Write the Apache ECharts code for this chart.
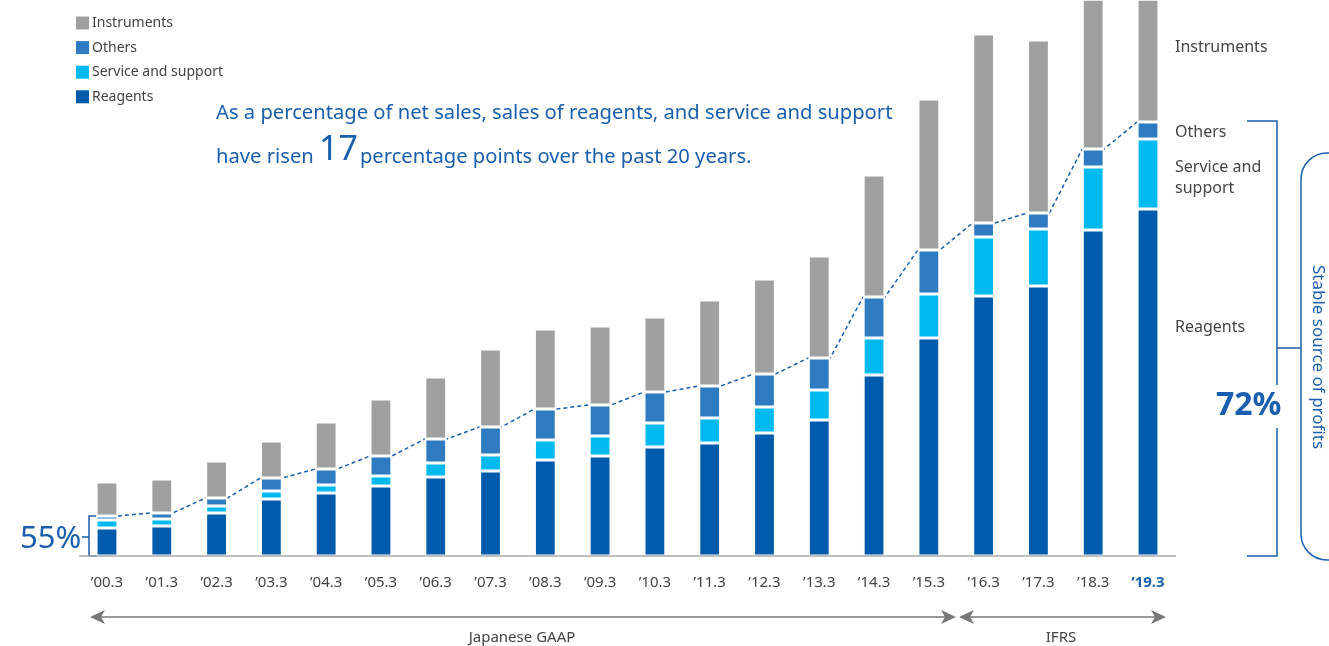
<!DOCTYPE html>
<html>
<head>
<meta charset="utf-8">
<script src="https://cdn.jsdelivr.net/npm/echarts@6/dist/echarts.min.js"></script>
<style>
html, body { margin: 0; padding: 0; background: #fff; }
#main { width: 1329px; height: 646px; }
</style>
</head>
<body>
<div id="main"></div>
<script>
// fiscal years (March year-end)
const years = ['’00.3', '’01.3', '’02.3', '’03.3', '’04.3', '’05.3', '’06.3', '’07.3', '’08.3', '’09.3',
  '’10.3', '’11.3', '’12.3', '’13.3', '’14.3', '’15.3', '’16.3', '’17.3', '’18.3', '’19.3'];
// sales by segment (relative units)
const reagents = [28, 30, 43, 57, 63, 70, 79, 85, 96, 100, 109, 113, 123, 136, 181, 218, 260, 270, 326, 347];
const service = [8, 7, 7, 8, 8, 10, 14, 16, 20, 20, 24, 25, 26, 30, 37, 44, 59, 57, 63, 70];
const others = [4, 6, 8, 13, 16, 20, 24, 28, 31, 31, 31, 32, 33, 32, 41, 44, 14, 16, 18, 17];
const instruments = [34, 34, 37, 37, 47, 57, 62, 78, 80, 79, 75, 86, 95, 102, 122, 151, 189, 173, 175, 169];

const blue = '#1a5fae';
const textColor = '#444';
const font = "'Noto Sans', sans-serif";

// dashed line runs along the top of reagents + service + others, edge to edge between bars
let stableTop = reagents.map((v, i) => v + service[i] + others[i]);
let halfBar = 0.2;
let dashPoints = [];
stableTop.forEach((v, i) => {
  if (i > 0) dashPoints.push([i - halfBar, v]);
  if (i < stableTop.length - 1) dashPoints.push([i + halfBar, v]);
});

function barSeries(name, data, color) {
  return {
    name: name,
    type: 'bar',
    stack: 'sales',
    data: data,
    barWidth: 22,
    z: 3,
    silent: true,
    itemStyle: { color: color, borderColor: '#fff', borderWidth: 1.6 }
  };
}

function txt(x, y, text, size, extra) {
  return {
    type: 'text', x: x, y: y, silent: true,
    style: Object.assign({ text: text, font: size + 'px ' + font, fill: textColor, textVerticalAlign: 'middle' }, extra || {})
  };
}

function stroke(type, shape, color) {
  return { type: type, silent: true, shape: shape, style: { stroke: color || blue, lineWidth: 1.5, fill: null } };
}

let option = {
  animation: false,
  textStyle: { fontFamily: font },
  grid: { left: 79.6, right: 153.6, top: 0, bottom: 90 },
  legend: {
    data: ['Instruments', 'Others', 'Service and support', 'Reagents'],
    orient: 'vertical',
    left: 76,
    top: 16,
    padding: 0,
    icon: 'rect',
    itemWidth: 13,
    itemHeight: 13,
    itemGap: 10.6,
    selectedMode: false,
    itemStyle: { borderWidth: 0 },
    textStyle: { color: textColor, fontSize: 14, fontFamily: font, padding: [0, 0, 0, -2] }
  },
  xAxis: [
    {
      type: 'category',
      data: years,
      z: 5,
      axisLine: { lineStyle: { color: '#aaa', width: 1.5 } },
      axisTick: { show: false },
      axisLabel: {
        interval: 0,
        color: textColor,
        fontSize: 15,
        margin: 19,
        formatter: (v, i) => i === years.length - 1 ? '{b|' + v + '}' : v,
        rich: { b: { color: blue, fontWeight: 'bold', fontSize: 15 } }
      }
    },
    { type: 'value', min: -0.5, max: 19.5, show: false }
  ],
  yAxis: { type: 'value', min: 0, max: 556, show: false },
  series: [
    barSeries('Reagents', reagents, '#005bac'),
    barSeries('Service and support', service, '#00b9ef'),
    barSeries('Others', others, '#2f7bc2'),
    barSeries('Instruments', instruments, '#9fa0a0'),
    {
      type: 'line',
      xAxisIndex: 1,
      data: dashPoints,
      symbol: 'none',
      z: 2,
      silent: true,
      lineStyle: { color: blue, width: 1.5, type: [4, 3] }
    }
  ],
  graphic: [
    txt(216, 113, 'As a percentage of net sales, sales of reagents, and service and support', 20.2, { fill: blue }),
    {
      type: 'text', x: 216, y: 167, silent: true,
      style: {
        text: '{a|have risen }{b|17}{a|percentage points over the past 20 years.}',
        textVerticalAlign: 'bottom',
        rich: {
          a: { fontSize: 20.2, fontFamily: font, fill: blue, color: blue, verticalAlign: 'bottom' },
          b: { fontSize: 34, fontFamily: font, fill: blue, color: blue, verticalAlign: 'bottom', padding: [0, 2, 0, 0] }
        }
      }
    },
    txt(1175, 47, 'Instruments', 16),
    txt(1175, 132, 'Others', 16),
    txt(1175, 167, 'Service and', 16),
    txt(1175, 188, 'support', 16),
    txt(1175, 327, 'Reagents', 16),
    txt(1216, 406, '72%', 32, { fill: blue, font: 'bold 32px ' + font }),
    txt(20, 539, '55%', 31, { fill: blue }),
    {
      type: 'text', x: 1318, y: 357, rotation: -Math.PI / 2, silent: true,
      style: { text: 'Stable source of profits', font: '17px ' + font, fill: blue, textAlign: 'center', textVerticalAlign: 'middle' }
    },
    // 72% bracket
    stroke('polyline', { points: [[1247, 121], [1277, 121], [1277, 385]] }),
    stroke('polyline', { points: [[1277, 428], [1277, 556], [1247, 556]] }),
    stroke('line', { x1: 1277, y1: 348, x2: 1301, y2: 348 }),
    // rounded bracket around the vertical caption
    stroke('arc', { cx: 1327, cy: 179, r: 26, startAngle: Math.PI, endAngle: Math.PI * 1.5 }),
    stroke('line', { x1: 1301, y1: 179, x2: 1301, y2: 534 }),
    stroke('arc', { cx: 1327, cy: 534, r: 26, startAngle: Math.PI / 2, endAngle: Math.PI }),
    stroke('line', { x1: 1327, y1: 153, x2: 1329, y2: 153 }),
    stroke('line', { x1: 1327, y1: 560, x2: 1329, y2: 560 }),
    // 55% bracket
    stroke('polyline', { points: [[97, 516], [89, 516], [89, 556], [97, 556]] }),
    stroke('line', { x1: 82, y1: 537, x2: 89, y2: 537 }),
    // accounting standard arrows
    stroke('line', { x1: 95, y1: 617, x2: 950, y2: 617 }, '#777'),
    { type: 'polygon', silent: true, shape: { points: [[90, 617], [105, 610], [101, 617], [105, 624]] }, style: { fill: '#777' } },
    { type: 'polygon', silent: true, shape: { points: [[956, 617], [941, 610], [945, 617], [941, 624]] }, style: { fill: '#777' } },
    stroke('line', { x1: 964, y1: 617, x2: 1160, y2: 617 }, '#777'),
    { type: 'polygon', silent: true, shape: { points: [[959, 617], [974, 610], [970, 617], [974, 624]] }, style: { fill: '#777' } },
    { type: 'polygon', silent: true, shape: { points: [[1166, 617], [1151, 610], [1155, 617], [1151, 624]] }, style: { fill: '#777' } },
    txt(522, 638, 'Japanese GAAP', 15, { textAlign: 'center' }),
    txt(1061, 638, 'IFRS', 15, { textAlign: 'center' })
  ]
};

let chart = echarts.init(document.getElementById('main'));
chart.setOption(option);
</script>
</body>
</html>
